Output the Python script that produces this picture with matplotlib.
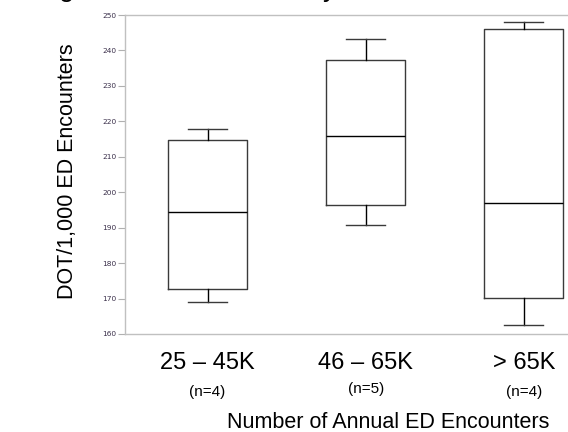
import matplotlib
matplotlib.use('Agg')
import matplotlib.pyplot as plt

# box statistics
groups = ['25 – 45K', '46 – 65K', '> 65K']
counts = ['(n=4)', '(n=5)', '(n=4)']
whislo = [169.1, 190.7, 162.5]
q1 = [172.7, 196.4, 170.1]
med = [194.5, 215.9, 197.0]
q3 = [214.7, 237.3, 246.1]
whishi = [217.8, 243.3, 247.9]
yticks = [160, 170, 180, 190, 200, 210, 220, 230, 240, 250]

stats = [dict(whislo=whislo[i], q1=q1[i], med=med[i], q3=q3[i],
              whishi=whishi[i], fliers=[]) for i in range(len(groups))]

plt.rcParams['font.family'] = ['Liberation Sans', 'DejaVu Sans']

fig = plt.figure(figsize=(5.68, 4.32), dpi=100)
ax = fig.add_axes([125/568, 98/432, (568-125)/568, 319/432])

line_col = '#3a3a3a'
ax.bxp(stats, positions=[1, 2, 3], widths=0.5, showfliers=False,
       boxprops=dict(color=line_col, lw=1.0),
       whiskerprops=dict(color='black', lw=1.0),
       capprops=dict(color=line_col, lw=1.0),
       medianprops=dict(color='black', lw=1.0))

ax.set_xlim(0.478, 3.28)
ax.set_ylim(160, 250)
ax.set_yticks(yticks)
ax.tick_params(axis='y', length=5, width=0.8, color='#b0b0b0', pad=1,
               labelsize=5.3, labelcolor='#3a2f4a')
for lab in ax.get_yticklabels():
    lab.set_family('DejaVu Sans')
ax.set_xticks([])

for s in ['left', 'top', 'bottom']:
    ax.spines[s].set_color('#c0c0c0')
    ax.spines[s].set_linewidth(1.0)
ax.spines['right'].set_visible(False)

# category labels under the axis
for i, (g, c) in enumerate(zip(groups, counts)):
    ax.text(i + 1, -0.092, g, transform=ax.get_xaxis_transform(),
            ha='center', va='center', fontsize=17)
    dy = -0.172 if c == '(n=5)' else -0.183
    ax.text(i + 1, dy, c, transform=ax.get_xaxis_transform(),
            ha='center', va='center', fontsize=11)

fig.text(388/568, 1 - 422/432, 'Number of Annual ED Encounters',
         ha='center', va='center', fontsize=15.5)
fig.text(67/568, 1 - 171/432, 'DOT/1,000 ED Encounters', rotation=90,
         ha='center', va='center', fontsize=15.5)

# bottoms of a cropped title line
fig.text(67/568, 1 + 4/432, 'g', ha='center', va='baseline', fontsize=20)
fig.text(330/568, 1 + 4/432, 'y', ha='center', va='baseline', fontsize=20)

fig.savefig('out.png', dpi=100)
